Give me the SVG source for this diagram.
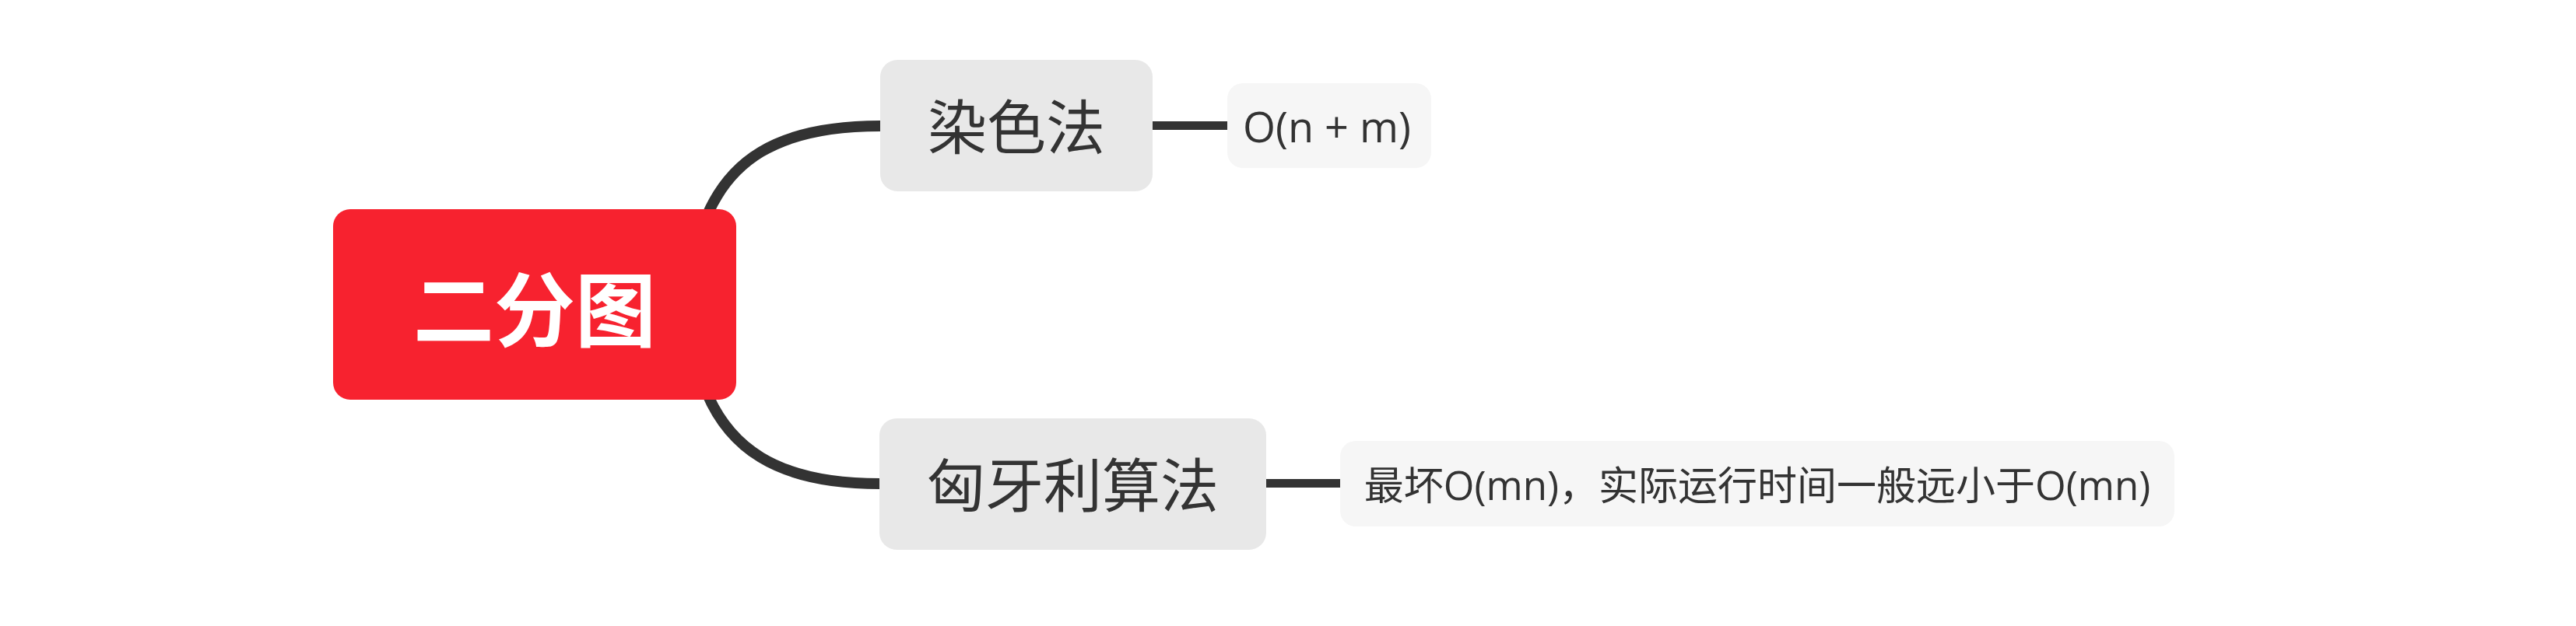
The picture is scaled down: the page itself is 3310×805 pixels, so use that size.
<svg xmlns="http://www.w3.org/2000/svg" width="3310" height="805" viewBox="0 0 3310 805">
<style>
.bg{fill:#ffffff}
.conn{fill:none;stroke:#333333;stroke-width:14;stroke-linecap:butt}
.conn2{fill:none;stroke:#333333;stroke-width:11}
.root{fill:#f7222f}
.main{fill:#e8e8e8}
.leaf{fill:#f6f6f6}
.t{font-family:"Open Sans","Noto Sans CJK SC",sans-serif;fill:#333333;text-anchor:middle;dominant-baseline:central}
.rt{font-family:"Noto Sans CJK SC",sans-serif;font-weight:bold;fill:#ffffff;font-size:104px;text-anchor:middle;dominant-baseline:central}
</style>
<rect class="bg" x="0" y="0" width="3310" height="805"/>
<g id="connectors">
<path class="conn" d="M 900 300 C 930 205 1000 162 1131 162"/>
<path class="conn" d="M 900 483 C 930 578 1000 622 1131 622"/>
<line class="conn2" x1="1480" y1="161.5" x2="1578" y2="161.5"/>
<line class="conn2" x1="1626" y1="621.5" x2="1723" y2="621.5"/>
</g>
<g id="root">
<rect class="root" x="428" y="269" width="518" height="245" rx="22"/>
<text class="rt" x="687" y="392">二分图</text>
</g>
<g id="node-ranse">
<rect class="main" x="1131" y="77" width="350" height="169" rx="22"/>
<text class="t" x="1306" y="162" font-size="76">染色法</text>
</g>
<g id="node-xiongyali">
<rect class="main" x="1130" y="538" width="497" height="169" rx="22"/>
<text class="t" x="1378.5" y="623" font-size="75">匈牙利算法</text>
</g>
<g id="leaf-ranse">
<rect class="leaf" x="1577" y="107" width="262" height="109" rx="20"/>
<text class="t" x="1705" y="162" font-size="54">O(n + m)</text>
</g>
<g id="leaf-xiongyali">
<rect class="leaf" x="1722" y="567" width="1072" height="110" rx="20"/>
<text class="t" x="2258" y="623" font-size="51">最坏O(mn)，实际运行时间一般远小于O(mn)</text>
</g>
</svg>
